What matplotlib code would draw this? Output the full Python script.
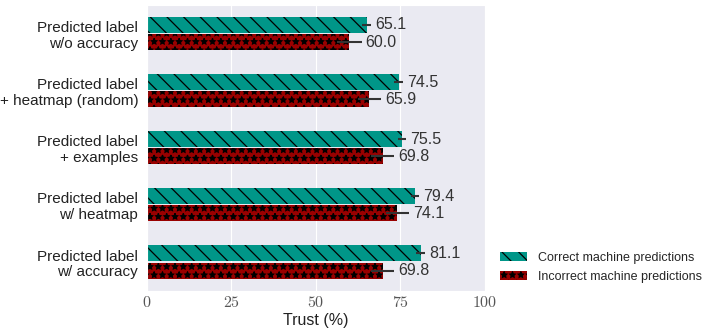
import matplotlib
matplotlib.use("Agg")
import matplotlib.pyplot as plt
import numpy as np
import seaborn as sns

# Data (top to bottom)
conditions = [
    "Predicted label\nw/o accuracy",
    "Predicted label\n+ heatmap (random)",
    "Predicted label\n+ examples",
    "Predicted label\nw/ heatmap",
    "Predicted label\nw/ accuracy",
]
correct = [65.1, 74.5, 75.5, 79.4, 81.1]
incorrect = [60.0, 65.9, 69.8, 74.1, 69.8]
correct_err = [1.3, 1.3, 1.1, 1.2, 1.3]
incorrect_err = [3.6, 3.5, 3.4, 3.4, 3.5]
xticks = [0, 25, 50, 75, 100]

sns.set_style("darkgrid")
plt.rcParams["font.family"] = ["Liberation Sans", "DejaVu Sans"]
plt.rcParams["mathtext.fontset"] = "cm"
plt.rcParams["hatch.linewidth"] = 0.9

fig, ax = plt.subplots(figsize=(7.15, 3.34), dpi=100)
fig.subplots_adjust(left=0.205, right=0.678, top=0.985, bottom=0.13)

n = len(conditions)
y = np.arange(n)[::-1].astype(float)
h = 0.28
off = 0.15

err_kw = dict(ecolor="#333333", elinewidth=1.5, capsize=0)
b1 = ax.barh(y + off, correct, height=h, xerr=correct_err, color="#009688",
             hatch="\\\\", edgecolor="black", linewidth=0,
             label="Correct machine predictions", error_kw=err_kw)
b2 = ax.barh(y - off, incorrect, height=h, xerr=incorrect_err, color="#990000",
             hatch="**", edgecolor="black", linewidth=0,
             label="Incorrect machine predictions", error_kw=err_kw)

for yy, v, e in zip(y + off, correct, correct_err):
    ax.text(v + e + 1.2, yy, f"{v:.1f}", va="center", ha="left",
            fontsize=11.5, color="#333333")
for yy, v, e in zip(y - off, incorrect, incorrect_err):
    ax.text(v + e + 1.2, yy, f"{v:.1f}", va="center", ha="left",
            fontsize=11.5, color="#333333")

ax.set_xlim(0, 100)
ax.set_ylim(-0.5, n - 0.5)
ax.set_xticks(xticks)
ax.set_xticklabels([f"${t}$" for t in xticks], fontsize=11.5, color="#555555")
ax.set_yticks(y)
ax.set_yticklabels(conditions, fontsize=11, color="#222222", linespacing=1.15)
ax.tick_params(axis="y", length=0, pad=6)
ax.tick_params(axis="x", length=0, pad=3)
ax.grid(axis="y", visible=False)
ax.set_xlabel("Trust (%)", fontsize=11.5, labelpad=2, color="#222222")

fig.legend(handles=[b1, b2], loc="lower left", bbox_to_anchor=(0.683, 0.12),
           frameon=False, fontsize=9, handlelength=2.2, handletextpad=0.9,
           labelspacing=0.55)

fig.savefig("out.png", dpi=100)
